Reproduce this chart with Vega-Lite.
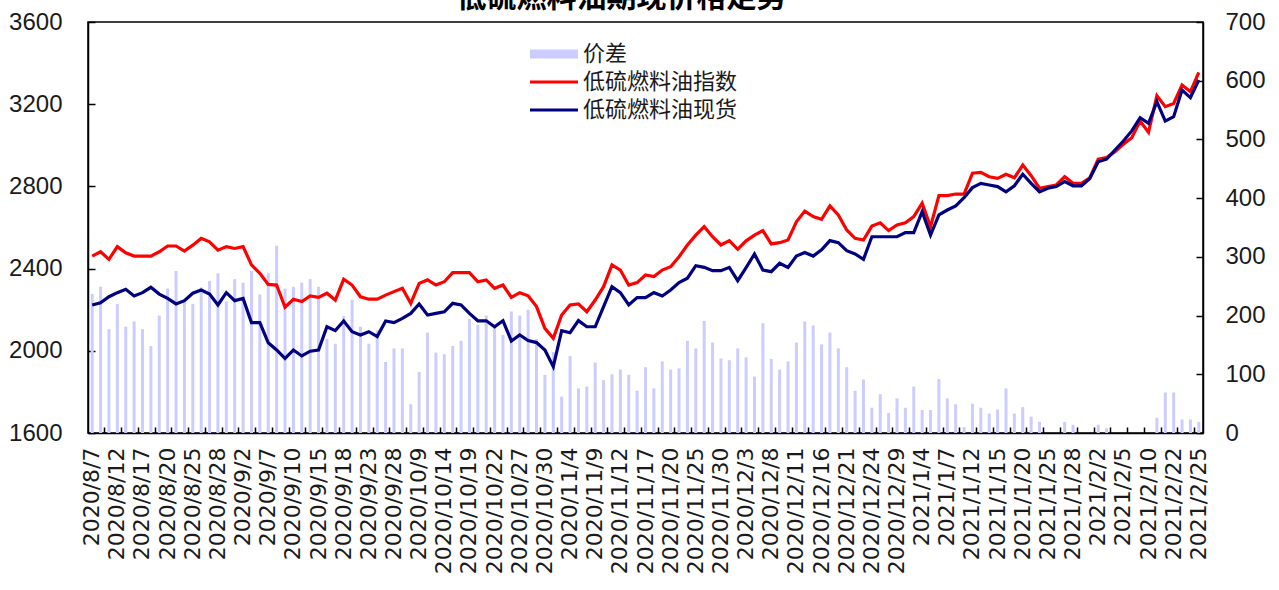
{
  "$schema": "https://vega.github.io/schema/vega-lite/v6.json",
  "width": 1115,
  "height": 411,
  "autosize": "none",
  "padding": {"left": 88, "top": 22, "right": 76, "bottom": 157},
  "background": "white",
  "config": {
    "view": {"stroke": "#000000", "strokeWidth": 1.5},
    "font": "Liberation Sans, Noto Sans CJK SC",
    "axis": {"grid": false, "title": null, "domainColor": "#000000", "domainWidth": 1.5, "tickColor": "#000000", "tickWidth": 1.5, "labelColor": "#1a1a1a", "labelFont": "Liberation Sans"}
  },
  "title": {"text": "低硫燃料油期现价格走势", "font": "Noto Sans CJK SC", "fontSize": 30, "fontWeight": "bold", "anchor": "middle", "frame": "group", "offset": -3, "dx": -24, "color": "#000000"},
  "data": {"values": [
    {"日期": "2020/8/7", "价差": 237, "低硫燃料油指数": 2461, "低硫燃料油现货": 2223},
    {"日期": "2020/8/10", "价差": 249, "低硫燃料油指数": 2482, "低硫燃料油现货": 2234},
    {"日期": "2020/8/11", "价差": 177, "低硫燃料油指数": 2445, "低硫燃料油现货": 2263},
    {"日期": "2020/8/12", "价差": 220, "低硫燃料油指数": 2507, "低硫燃料油现货": 2283},
    {"日期": "2020/8/13", "价差": 181, "低硫燃料油指数": 2477, "低硫燃料油现货": 2299},
    {"日期": "2020/8/14", "价差": 190, "低硫燃料油指数": 2461, "低硫燃料油现货": 2267},
    {"日期": "2020/8/17", "价差": 177, "低硫燃料油指数": 2461, "低硫燃料油现货": 2283},
    {"日期": "2020/8/18", "价差": 148, "低硫燃料油指数": 2461, "低硫燃料油现货": 2309},
    {"日期": "2020/8/19", "价差": 200, "低硫燃料油指数": 2482, "低硫燃料油现货": 2276},
    {"日期": "2020/8/20", "价差": 246, "低硫燃料油指数": 2510, "低硫燃料油现货": 2255},
    {"日期": "2020/8/21", "价差": 276, "低硫燃料油指数": 2510, "低硫燃料油现货": 2228},
    {"日期": "2020/8/24", "价差": 227, "低硫燃料油指数": 2485, "低硫燃料油现货": 2244},
    {"日期": "2020/8/25", "价差": 220, "低硫燃料油指数": 2514, "低硫燃料油现货": 2280},
    {"日期": "2020/8/26", "价差": 248, "低硫燃料油指数": 2547, "低硫燃料油现货": 2296},
    {"日期": "2020/8/27", "价差": 259, "低硫燃料油指数": 2530, "低硫燃料油现货": 2276},
    {"日期": "2020/8/28", "价差": 272, "低硫燃料油指数": 2490, "低硫燃料油现货": 2223},
    {"日期": "2020/8/31", "价差": 224, "低硫燃料油指数": 2507, "低硫燃料油现货": 2283},
    {"日期": "2020/9/1", "价差": 262, "低硫燃料油指数": 2498, "低硫燃料油现货": 2244},
    {"日期": "2020/9/2", "价差": 256, "低硫燃料油指数": 2507, "低硫燃料油现货": 2255},
    {"日期": "2020/9/3", "价差": 276, "低硫燃料油指数": 2418, "低硫燃料油现货": 2137},
    {"日期": "2020/9/4", "价差": 236, "低硫燃料油指数": 2377, "低硫燃料油现货": 2137},
    {"日期": "2020/9/7", "价差": 272, "低硫燃料油指数": 2323, "低硫燃料油现货": 2039},
    {"日期": "2020/9/8", "价差": 319, "低硫燃料油指数": 2320, "低硫燃料油现货": 2004},
    {"日期": "2020/9/9", "价差": 246, "低硫燃料油指数": 2212, "低硫燃料油现货": 1963},
    {"日期": "2020/9/10", "价差": 249, "低硫燃料油指数": 2251, "低硫燃料油现货": 2004},
    {"日期": "2020/9/11", "价差": 256, "低硫燃料油指数": 2240, "低硫燃料油现货": 1975},
    {"日期": "2020/9/14", "价差": 262, "低硫燃料油指数": 2267, "低硫燃料油现货": 1998},
    {"日期": "2020/9/15", "价差": 249, "低硫燃料油指数": 2260, "低硫燃料油现货": 2004},
    {"日期": "2020/9/16", "价差": 160, "低硫燃料油指数": 2280, "低硫燃料油现货": 2117},
    {"日期": "2020/9/17", "价差": 152, "低硫燃料油指数": 2247, "低硫燃料油现货": 2098},
    {"日期": "2020/9/18", "价差": 199, "低硫燃料油指数": 2348, "低硫燃料油现货": 2145},
    {"日期": "2020/9/21", "价差": 227, "低硫燃料油指数": 2320, "低硫燃料油现货": 2093},
    {"日期": "2020/9/22", "价差": 181, "低硫燃料油指数": 2263, "低硫燃料油现货": 2077},
    {"日期": "2020/9/23", "价差": 152, "低硫燃料油指数": 2251, "低硫燃料油现货": 2093},
    {"日期": "2020/9/24", "价差": 175, "低硫燃料油指数": 2251, "低硫燃料油现货": 2069},
    {"日期": "2020/9/25", "价差": 121, "低硫燃料油指数": 2271, "低硫燃料油现货": 2145},
    {"日期": "2020/9/28", "价差": 144, "低硫燃料油指数": 2288, "低硫燃料油现货": 2137},
    {"日期": "2020/9/29", "价差": 144, "低硫燃料油指数": 2304, "低硫燃料油现货": 2158},
    {"日期": "2020/9/30", "价差": 49, "低硫燃料油指数": 2231, "低硫燃料油现货": 2182},
    {"日期": "2020/10/9", "价差": 104, "低硫燃料油指数": 2328, "低硫燃料油现货": 2228},
    {"日期": "2020/10/12", "价差": 171, "低硫燃料油指数": 2345, "低硫燃料油现货": 2174},
    {"日期": "2020/10/13", "价差": 137, "低硫燃料油指数": 2320, "低硫燃料油现货": 2182},
    {"日期": "2020/10/14", "价差": 134, "低硫燃料油指数": 2336, "低硫燃料油现货": 2190},
    {"日期": "2020/10/15", "价差": 148, "低硫燃料油指数": 2380, "低硫燃料油现货": 2231},
    {"日期": "2020/10/16", "价差": 157, "低硫燃料油指数": 2380, "低硫燃料油现货": 2223},
    {"日期": "2020/10/19", "价差": 194, "低硫燃料油指数": 2380, "低硫燃料油现货": 2182},
    {"日期": "2020/10/20", "价差": 184, "低硫燃料油指数": 2336, "低硫燃料油现货": 2146},
    {"日期": "2020/10/21", "价差": 200, "低硫燃料油指数": 2345, "低硫燃料油现货": 2146},
    {"日期": "2020/10/22", "价差": 181, "低硫燃料油指数": 2304, "低硫燃料油现货": 2117},
    {"日期": "2020/10/23", "价差": 167, "低硫燃料油指数": 2320, "低硫燃料油现货": 2146},
    {"日期": "2020/10/26", "价差": 207, "低硫燃料油指数": 2260, "低硫燃料油现货": 2048},
    {"日期": "2020/10/27", "价差": 200, "低硫燃料油指数": 2283, "低硫燃料油现货": 2077},
    {"日期": "2020/10/28", "价差": 210, "低硫燃料油指数": 2268, "低硫燃料油现货": 2050},
    {"日期": "2020/10/29", "价差": 160, "低硫燃料油指数": 2215, "低硫燃料油现货": 2040},
    {"日期": "2020/10/30", "价差": 99, "低硫燃料油指数": 2109, "低硫燃料油现货": 2004},
    {"日期": "2020/11/2", "价差": 138, "低硫燃料油指数": 2061, "低硫燃料油现货": 1923},
    {"日期": "2020/11/3", "价差": 62, "低硫燃料油指数": 2174, "低硫燃料油现货": 2098},
    {"日期": "2020/11/4", "价差": 131, "低硫燃料油指数": 2223, "低硫燃料油现货": 2088},
    {"日期": "2020/11/5", "价差": 76, "低硫燃料油指数": 2228, "低硫燃料油现货": 2147},
    {"日期": "2020/11/6", "价差": 79, "低硫燃料油指数": 2190, "低硫燃料油现货": 2117},
    {"日期": "2020/11/9", "价差": 120, "低硫燃料油指数": 2247, "低硫燃料油现货": 2117},
    {"日期": "2020/11/10", "价差": 90, "低硫燃料油指数": 2312, "低硫燃料油现货": 2215},
    {"日期": "2020/11/11", "价差": 100, "低硫燃料油指数": 2418, "低硫燃料油现货": 2312},
    {"日期": "2020/11/12", "价差": 108, "低硫燃料油指数": 2393, "低硫燃料油现货": 2283},
    {"日期": "2020/11/13", "价差": 99, "低硫燃料油指数": 2320, "低硫燃料油现货": 2223},
    {"日期": "2020/11/16", "价差": 72, "低硫燃料油指数": 2332, "低硫燃料油现货": 2259},
    {"日期": "2020/11/17", "价差": 112, "低硫燃料油指数": 2369, "低硫燃料油现货": 2259},
    {"日期": "2020/11/18", "价差": 76, "低硫燃料油指数": 2361, "低硫燃料油现货": 2283},
    {"日期": "2020/11/19", "价差": 122, "低硫燃料油指数": 2393, "低硫燃料油现货": 2267},
    {"日期": "2020/11/20", "价差": 108, "低硫燃料油指数": 2409, "低硫燃料油现货": 2296},
    {"日期": "2020/11/23", "价差": 110, "低硫燃料油指数": 2458, "低硫燃料油现货": 2332},
    {"日期": "2020/11/24", "价差": 157, "低硫燃料油指数": 2515, "低硫燃料油现货": 2353},
    {"日期": "2020/11/25", "价差": 144, "低硫燃料油指数": 2563, "低硫燃料油现货": 2414},
    {"日期": "2020/11/26", "价差": 191, "低硫燃料油指数": 2604, "低硫燃料油现货": 2406},
    {"日期": "2020/11/27", "价差": 154, "低硫燃料油指数": 2555, "低硫燃料油现货": 2390},
    {"日期": "2020/11/30", "价差": 127, "低硫燃料油指数": 2515, "低硫燃料油现货": 2390},
    {"日期": "2020/12/1", "价差": 124, "低硫燃料油指数": 2536, "低硫燃料油现货": 2406},
    {"日期": "2020/12/2", "价差": 144, "低硫燃料油指数": 2494, "低硫燃料油现货": 2341},
    {"日期": "2020/12/3", "价差": 129, "低硫燃料油指数": 2535, "低硫燃料油现货": 2405},
    {"日期": "2020/12/4", "价差": 96, "低硫燃料油指数": 2563, "低硫燃料油现货": 2471},
    {"日期": "2020/12/7", "价差": 187, "低硫燃料油指数": 2585, "低硫燃料油现货": 2393},
    {"日期": "2020/12/8", "价差": 126, "低硫燃料油指数": 2520, "低硫燃料油现货": 2385},
    {"日期": "2020/12/9", "价差": 108, "低硫燃料油指数": 2526, "低硫燃料油现货": 2426},
    {"日期": "2020/12/10", "价差": 122, "低硫燃料油指数": 2539, "低硫燃料油现货": 2406},
    {"日期": "2020/12/11", "价差": 154, "低硫燃料油指数": 2628, "低硫燃料油现货": 2461},
    {"日期": "2020/12/14", "价差": 190, "低硫燃料油指数": 2680, "低硫燃料油现货": 2478},
    {"日期": "2020/12/15", "价差": 183, "低硫燃料油指数": 2653, "低硫燃料油现货": 2461},
    {"日期": "2020/12/16", "价差": 151, "低硫燃料油指数": 2640, "低硫燃料油现货": 2491},
    {"日期": "2020/12/17", "价差": 171, "低硫燃料油指数": 2705, "低硫燃料油现货": 2536},
    {"日期": "2020/12/18", "价差": 144, "低硫燃料油指数": 2661, "低硫燃料油现货": 2526},
    {"日期": "2020/12/21", "价差": 112, "低硫燃料油指数": 2588, "低硫燃料油现货": 2487},
    {"日期": "2020/12/22", "价差": 72, "低硫燃料油指数": 2547, "低硫燃料油现货": 2471},
    {"日期": "2020/12/23", "价差": 91, "低硫燃料油指数": 2539, "低硫燃料油现货": 2445},
    {"日期": "2020/12/24", "价差": 43, "低硫燃料油指数": 2607, "低硫燃料油现货": 2555},
    {"日期": "2020/12/25", "价差": 66, "低硫燃料油指数": 2623, "低硫燃料油现货": 2555},
    {"日期": "2020/12/28", "价差": 34, "低硫燃料油指数": 2585, "低硫燃料油现货": 2555},
    {"日期": "2020/12/29", "价差": 59, "低硫燃料油指数": 2612, "低硫燃料油现货": 2555},
    {"日期": "2020/12/30", "价差": 43, "低硫燃料油指数": 2623, "低硫燃料油现货": 2575},
    {"日期": "2020/12/31", "价差": 79, "低硫燃料油指数": 2653, "低硫燃料油现货": 2575},
    {"日期": "2021/1/4", "价差": 39, "低硫燃料油指数": 2718, "低硫燃料油现货": 2677},
    {"日期": "2021/1/5", "价差": 39, "低硫燃料油指数": 2604, "低硫燃料油现货": 2563},
    {"日期": "2021/1/6", "价差": 92, "低硫燃料油指数": 2755, "低硫燃料油现货": 2661},
    {"日期": "2021/1/7", "价差": 59, "低硫燃料油指数": 2755, "低硫燃料油现货": 2685},
    {"日期": "2021/1/8", "价差": 49, "低硫燃料油指数": 2763, "低硫燃料油现货": 2705},
    {"日期": "2021/1/11", "价差": 10, "低硫燃料油指数": 2762, "低硫燃料油现货": 2745},
    {"日期": "2021/1/12", "价差": 50, "低硫燃料油指数": 2864, "低硫燃料油现货": 2794},
    {"日期": "2021/1/13", "价差": 43, "低硫燃料油指数": 2868, "低硫燃料油现货": 2815},
    {"日期": "2021/1/14", "价差": 33, "低硫燃料油指数": 2847, "低硫燃料油现货": 2807},
    {"日期": "2021/1/15", "价差": 40, "低硫燃料油指数": 2839, "低硫燃料油现货": 2799},
    {"日期": "2021/1/18", "价差": 76, "低硫燃料油指数": 2859, "低硫燃料油现货": 2774},
    {"日期": "2021/1/19", "价差": 33, "低硫燃料油指数": 2842, "低硫燃料油现货": 2803},
    {"日期": "2021/1/20", "价差": 44, "低硫燃料油指数": 2904, "低硫燃料油现货": 2859},
    {"日期": "2021/1/21", "价差": 28, "低硫燃料油指数": 2852, "低硫燃料油现货": 2815},
    {"日期": "2021/1/22", "价差": 19, "低硫燃料油指数": 2791, "低硫燃料油现货": 2774},
    {"日期": "2021/1/25", "价差": 0, "低硫燃料油指数": 2799, "低硫燃料油现货": 2791},
    {"日期": "2021/1/26", "价差": 0, "低硫燃料油指数": 2807, "低硫燃料油现货": 2799},
    {"日期": "2021/1/27", "价差": 19, "低硫燃料油指数": 2847, "低硫燃料油现货": 2823},
    {"日期": "2021/1/28", "价差": 14, "低硫燃料油指数": 2815, "低硫燃料油现货": 2803},
    {"日期": "2021/1/29", "价差": 0, "低硫燃料油指数": 2815, "低硫燃料油现货": 2803},
    {"日期": "2021/2/1", "价差": 0, "低硫燃料油指数": 2842, "低硫燃料油现货": 2839},
    {"日期": "2021/2/2", "价差": 14, "低硫燃料油指数": 2933, "低硫燃料油现货": 2920},
    {"日期": "2021/2/3", "价差": 8, "低硫燃料油指数": 2940, "低硫燃料油现货": 2933},
    {"日期": "2021/2/4", "价差": 0, "低硫燃料油指数": 2969, "低硫燃料油现货": 2977},
    {"日期": "2021/2/5", "价差": 0, "低硫燃料油指数": 3005, "低硫燃料油现货": 3021},
    {"日期": "2021/2/8", "价差": 0, "低硫燃料油指数": 3037, "低硫燃料油现货": 3070},
    {"日期": "2021/2/9", "价差": 0, "低硫燃料油指数": 3118, "低硫燃料油现货": 3134},
    {"日期": "2021/2/10", "价差": 0, "低硫燃料油指数": 3063, "低硫燃料油现货": 3107},
    {"日期": "2021/2/18", "价差": 26, "低硫燃料油指数": 3241, "低硫燃料油现货": 3212},
    {"日期": "2021/2/19", "价差": 69, "低硫燃料油指数": 3188, "低硫燃料油现货": 3118},
    {"日期": "2021/2/22", "价差": 69, "低硫燃料油指数": 3204, "低硫燃料油现货": 3139},
    {"日期": "2021/2/23", "价差": 23, "低硫燃料油指数": 3293, "低硫燃料油现货": 3269},
    {"日期": "2021/2/24", "价差": 23, "低硫燃料油指数": 3261, "低硫燃料油现货": 3232},
    {"日期": "2021/2/25", "价差": 19, "低硫燃料油指数": 3355, "低硫燃料油现货": 3318}
  ]},
  "layer": [
    {
      "mark": {"type": "bar", "width": 3},
      "encoding": {
        "x": {"field": "日期", "type": "ordinal", "sort": null,
          "scale": {"paddingInner": 0, "paddingOuter": 0},
          "axis": {"orient": "bottom", "labels": false, "domain": false, "ticks": true, "tickSize": -6, "bandPosition": 0,
            "values": ["2020/8/11","2020/8/13","2020/8/17","2020/8/19","2020/8/21","2020/8/25","2020/8/27","2020/8/31","2020/9/2","2020/9/4","2020/9/8","2020/9/10","2020/9/14","2020/9/16","2020/9/18","2020/9/22","2020/9/24","2020/9/28","2020/9/30","2020/10/12","2020/10/14","2020/10/16","2020/10/20","2020/10/22","2020/10/26","2020/10/28","2020/10/30","2020/11/3","2020/11/5","2020/11/9","2020/11/11","2020/11/13","2020/11/17","2020/11/19","2020/11/23","2020/11/25","2020/11/27","2020/12/1","2020/12/3","2020/12/7","2020/12/9","2020/12/11","2020/12/15","2020/12/17","2020/12/21","2020/12/23","2020/12/25","2020/12/29","2020/12/31","2021/1/5","2021/1/7","2021/1/11","2021/1/13","2021/1/15","2021/1/19","2021/1/21","2021/1/25","2021/1/27","2021/1/29","2021/2/2","2021/2/4","2021/2/8","2021/2/10","2021/2/19","2021/2/23","2021/2/25"]}},
        "y": {"field": "价差", "type": "quantitative", "scale": {"domain": [0, 700], "nice": false, "zero": true},
          "axis": {"orient": "right", "values": [0,100,200,300,400,500,600,700], "format": "d", "tickSize": -7, "labelPadding": 29, "labelFontSize": 24, "labelFont": "Liberation Sans"}},
        "color": {"datum": "价差", "type": "nominal", "title": null,
          "scale": {"domain": ["价差", "低硫燃料油指数", "低硫燃料油现货"], "range": ["#ccccff", "#ff0000", "#000080"]},
          "legend": {"orient": "none", "legendX": 455, "legendY": 21, "title": null, "symbolType": "M-2.4,-0.15H2.4V0.15H-2.4Z", "symbolSize": 400, "symbolStrokeWidth": 0,
            "labelFont": "Noto Sans CJK SC", "labelFontSize": 22, "labelColor": "#1a1a1a", "labelOffset": 18, "rowPadding": 6,
            "encode": {"symbols": {"update": {
              "shape": {"signal": "datum.value === '价差' ? 'M-2.4,-0.45H2.4V0.45H-2.4Z' : 'M-2.4,-0.15H2.4V0.15H-2.4Z'"},
              "fill": {"scale": "color", "field": "value"},
              "stroke": {"value": "transparent"},
              "strokeWidth": {"value": 0},
              "size": {"value": 400}}}}}}
      }
    },
    {
      "transform": [{"fold": ["低硫燃料油指数", "低硫燃料油现货"], "as": ["系列", "价格"]}],
      "mark": {"type": "line", "strokeWidth": 3.2},
      "encoding": {
        "x": {"field": "日期", "type": "ordinal", "sort": null, "bandPosition": 0.5,
          "axis": {"orient": "bottom", "ticks": false, "domain": true, "labelAngle": -90, "labelFontSize": 22, "labelPadding": 14, "labelFont": "DejaVu Sans",
            "values": ["2020/8/7","2020/8/12","2020/8/17","2020/8/20","2020/8/25","2020/8/28","2020/9/2","2020/9/7","2020/9/10","2020/9/15","2020/9/18","2020/9/23","2020/9/28","2020/10/9","2020/10/14","2020/10/19","2020/10/22","2020/10/27","2020/10/30","2020/11/4","2020/11/9","2020/11/12","2020/11/17","2020/11/20","2020/11/25","2020/11/30","2020/12/3","2020/12/8","2020/12/11","2020/12/16","2020/12/21","2020/12/24","2020/12/29","2021/1/4","2021/1/7","2021/1/12","2021/1/15","2021/1/20","2021/1/25","2021/1/28","2021/2/2","2021/2/5","2021/2/10","2021/2/22","2021/2/25"]}},
        "y": {"field": "价格", "type": "quantitative", "scale": {"domain": [1600, 3600], "nice": false, "zero": false},
          "axis": {"orient": "left", "values": [1600,2000,2400,2800,3200,3600], "format": "d", "tickSize": -7, "labelPadding": 33, "labelFontSize": 24, "labelFont": "Liberation Sans"}},
        "color": {"field": "系列", "type": "nominal", "title": null}
      }
    }
  ],
  "resolve": {"scale": {"y": "independent"}, "axis": {"x": "independent"}}
}
